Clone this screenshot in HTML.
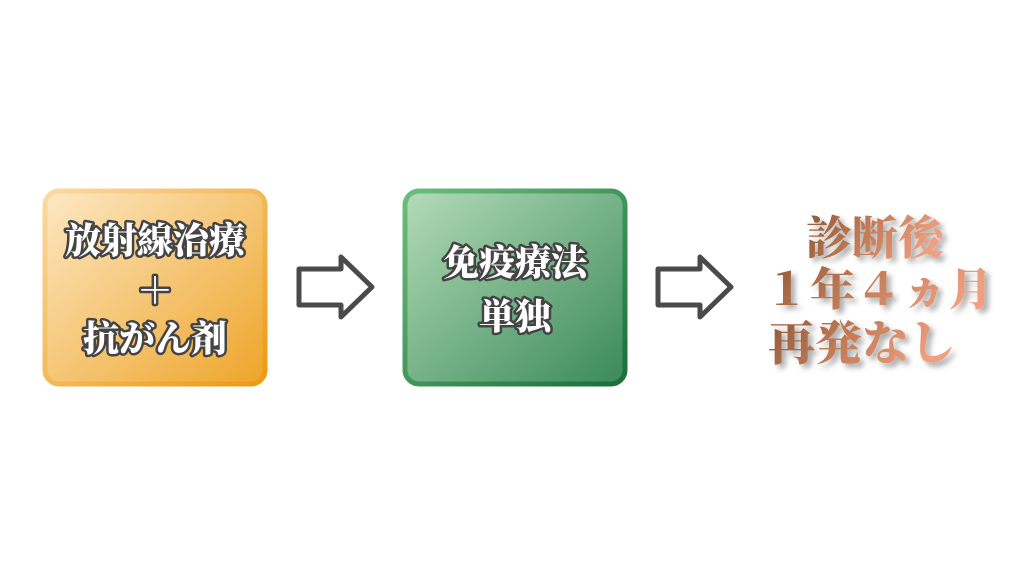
<!DOCTYPE html>
<html><head><meta charset="utf-8"><style>
html,body{margin:0;padding:0;background:#fff;width:1024px;height:576px;overflow:hidden}
</style></head><body>
<svg width="1024" height="576" viewBox="0 0 1024 576" xmlns="http://www.w3.org/2000/svg">
<defs>
<linearGradient id="og" x1="0" y1="0" x2="1" y2="1">
<stop offset="0" stop-color="#fde8c4"/><stop offset="1" stop-color="#eea52a"/></linearGradient>
<linearGradient id="ob" x1="0" y1="0" x2="1" y2="1">
<stop offset="0" stop-color="#fbd9a0"/><stop offset="1" stop-color="#ec9a10"/></linearGradient>
<linearGradient id="gg" x1="0" y1="0" x2="1" y2="1">
<stop offset="0" stop-color="#b4dcb8"/><stop offset="1" stop-color="#3a8a58"/></linearGradient>
<linearGradient id="gb" x1="0" y1="0" x2="1" y2="1">
<stop offset="0" stop-color="#6bbf7c"/><stop offset="1" stop-color="#1a6e3a"/></linearGradient>
<linearGradient id="tg" x1="0" y1="0" x2="1" y2="0.3">
<stop offset="0" stop-color="#8a5634"/><stop offset="0.5" stop-color="#c27a56"/><stop offset="1" stop-color="#f0a080"/></linearGradient>
<filter id="sh" x="-10%" y="-10%" width="130%" height="130%"><feGaussianBlur in="SourceAlpha" stdDeviation="3"/><feOffset dx="4" dy="4"/><feComponentTransfer><feFuncA type="linear" slope="0.35"/></feComponentTransfer><feMerge><feMergeNode/><feMergeNode in="SourceGraphic"/></feMerge></filter>
</defs>
<rect x="45" y="191" width="220" height="193" rx="14" fill="url(#og)" stroke="url(#ob)" stroke-width="5"/>
<rect x="405" y="191" width="220" height="193" rx="14" fill="url(#gg)" stroke="url(#gb)" stroke-width="5"/>
<g font-family="'Noto Serif CJK SC','Noto Serif CJK JP',serif" font-weight="900" font-size="36" text-anchor="middle" fill="#fff" stroke="#444" stroke-width="5" paint-order="stroke" stroke-linejoin="round">
<text x="155" y="253">放射線治療</text>
<text x="155" y="303">＋</text>
<text x="155" y="351">抗がん剤</text>
<text x="515" y="275">免疫療法</text>
<text x="515" y="329">単独</text>
</g>
<g fill="#fff" stroke="#4a4a4a" stroke-width="5" stroke-linejoin="round">
<polygon points="299,269 341,269 341,257 372,287 341,317 341,305 299,305"/>
<polygon points="658,269 700,269 700,257 731,287 700,317 700,305 658,305"/>
</g>
<g font-family="'Noto Serif CJK SC','Noto Serif CJK JP',serif" font-weight="900" fill="url(#tg)" filter="url(#sh)">
<text x="806" y="254" font-size="46">診断後</text>
<text x="764" y="305" font-size="45" letter-spacing="1">１年４ヵ月</text>
<text x="768" y="360" font-size="47">再発なし</text>
</g>
</svg>
</body></html>
